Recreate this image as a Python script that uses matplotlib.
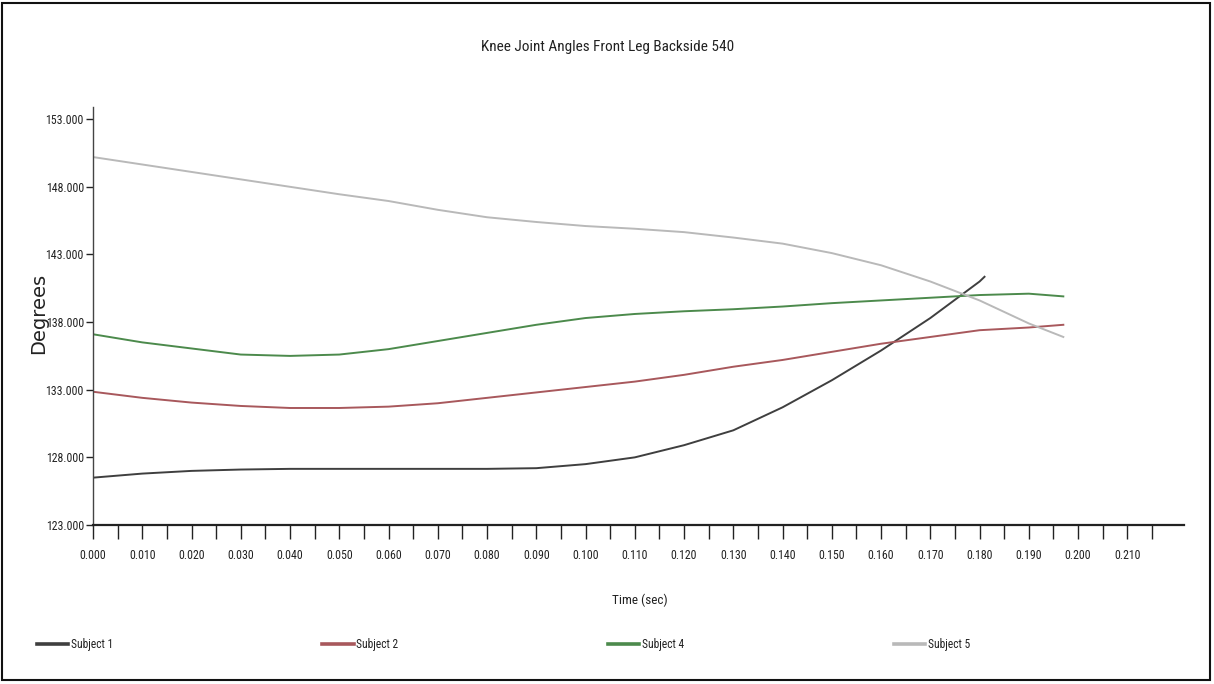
import matplotlib
matplotlib.use("Agg")
import matplotlib.pyplot as plt
from matplotlib.patches import Rectangle
from matplotlib.lines import Line2D
from matplotlib import font_manager

avail = {f.name for f in font_manager.fontManager.ttflist}
narrow_candidates = ['Liberation Sans Narrow', 'Roboto Condensed', 'Open Sans Condensed',
                     'DejaVu Sans Condensed', 'Noto Sans Condensed', 'Arial Narrow']
fam = [f for f in narrow_candidates if f in avail] + ['Liberation Sans', 'DejaVu Sans']
plt.rcParams['font.family'] = fam

title = "Knee Joint Angles Front Leg Backside 540"
x_label = "Time (sec)"
y_label = "Degrees"

t_s1 = [0.00, 0.01, 0.02, 0.03, 0.04, 0.05, 0.06, 0.07, 0.08, 0.09, 0.10,
        0.11, 0.12, 0.13, 0.14, 0.15, 0.16, 0.17, 0.18, 0.181]
subject1 = [126.5, 126.8, 127.0, 127.1, 127.15, 127.15, 127.15, 127.15, 127.15, 127.2, 127.5,
            128.0, 128.9, 130.0, 131.7, 133.7, 135.9, 138.3, 141.0, 141.35]

t_rest = [0.00, 0.01, 0.02, 0.03, 0.04, 0.05, 0.06, 0.07, 0.08, 0.09, 0.10,
          0.11, 0.12, 0.13, 0.14, 0.15, 0.16, 0.17, 0.18, 0.19, 0.197]
subject2 = [132.85, 132.4, 132.05, 131.8, 131.65, 131.65, 131.75, 132.0, 132.4, 132.8, 133.2,
            133.6, 134.1, 134.7, 135.2, 135.8, 136.4, 136.9, 137.4, 137.6, 137.8]
subject4 = [137.1, 136.5, 136.05, 135.6, 135.5, 135.6, 136.0, 136.6, 137.2, 137.8, 138.3,
            138.6, 138.8, 138.95, 139.15, 139.4, 139.6, 139.8, 140.0, 140.1, 139.9]
subject5 = [150.2, 149.65, 149.1, 148.55, 148.0, 147.45, 146.95, 146.3, 145.75, 145.4, 145.1,
            144.9, 144.65, 144.25, 143.8, 143.1, 142.2, 141.0, 139.6, 137.9, 136.9]

series_names = ["Subject 1", "Subject 2", "Subject 4", "Subject 5"]
colors = ["#3f3f3f", "#a8585c", "#4c8a4c", "#b9b9b9"]

y_ticks = [123, 128, 133, 138, 143, 148, 153]
x_major = [round(0.01 * i, 3) for i in range(22)]
x_minor = [round(0.005 + 0.01 * i, 3) for i in range(22)]

W, H = 1214, 684
fig = plt.figure(figsize=(W / 100, H / 100), dpi=100)
ax = fig.add_axes([93 / W, (H - 525) / H, (1184 - 93) / W, (525 - 107) / H])

series = [(t_s1, subject1), (t_rest, subject2), (t_rest, subject4), (t_rest, subject5)]
for (tx, ty), name, c in zip(series, series_names, colors):
    ax.plot(tx, ty, color=c, lw=1.4, label=name)

tick_fs = 8.6
ax.set_xlim(0, 0.2215)
ax.set_ylim(123, 153.9)
ax.set_yticks(y_ticks)
ax.set_yticklabels([f"{v:.3f}" for v in y_ticks], fontsize=tick_fs, color='#222222')
ax.set_xticks(x_major)
ax.set_xticklabels([f"{v:.3f}" for v in x_major], fontsize=tick_fs, color='#222222')
ax.set_xticks(x_minor, minor=True)
ax.tick_params(axis='x', which='both', direction='out', length=10, width=1, color='#222222', pad=7)
ax.tick_params(axis='y', which='both', direction='out', length=5, width=1, color='#222222', pad=1.5)
for s in ['top', 'right']:
    ax.spines[s].set_visible(False)
ax.spines['bottom'].set_linewidth(1.6)
ax.spines['left'].set_linewidth(1.0)
ax.spines['bottom'].set_color('#222222')
ax.spines['left'].set_color('#444444')

fig.text(608 / W, 1 - 47 / H, title, ha='center', va='center', fontsize=11, color='#222222')
fig.text(640 / W, 1 - 600 / H, x_label, ha='center', va='center', fontsize=9.5, color='#222222')
fig.text(39 / W, 1 - 313 / H, y_label, ha='center', va='center', rotation=90, fontsize=14,
         family=['DejaVu Sans'], color='#222222')

leg_handles = [Line2D([], [], color=c, lw=2.6) for c in colors]
fig.legend(leg_handles, series_names, loc='center left',
           bbox_to_anchor=(32 / W, 1 - 645 / H, 943 / W, 0.001),
           ncol=4, mode='expand', frameon=False, fontsize=8.3, handlelength=2.7,
           handletextpad=0.25, borderaxespad=0, labelcolor='#222222')

fig.patches.append(Rectangle((2 / W, 4 / H), (W - 6) / W, (H - 7) / H, transform=fig.transFigure,
                             fill=False, edgecolor='#111111', lw=1.5))

fig.savefig("out.png", dpi=100, facecolor='white')
